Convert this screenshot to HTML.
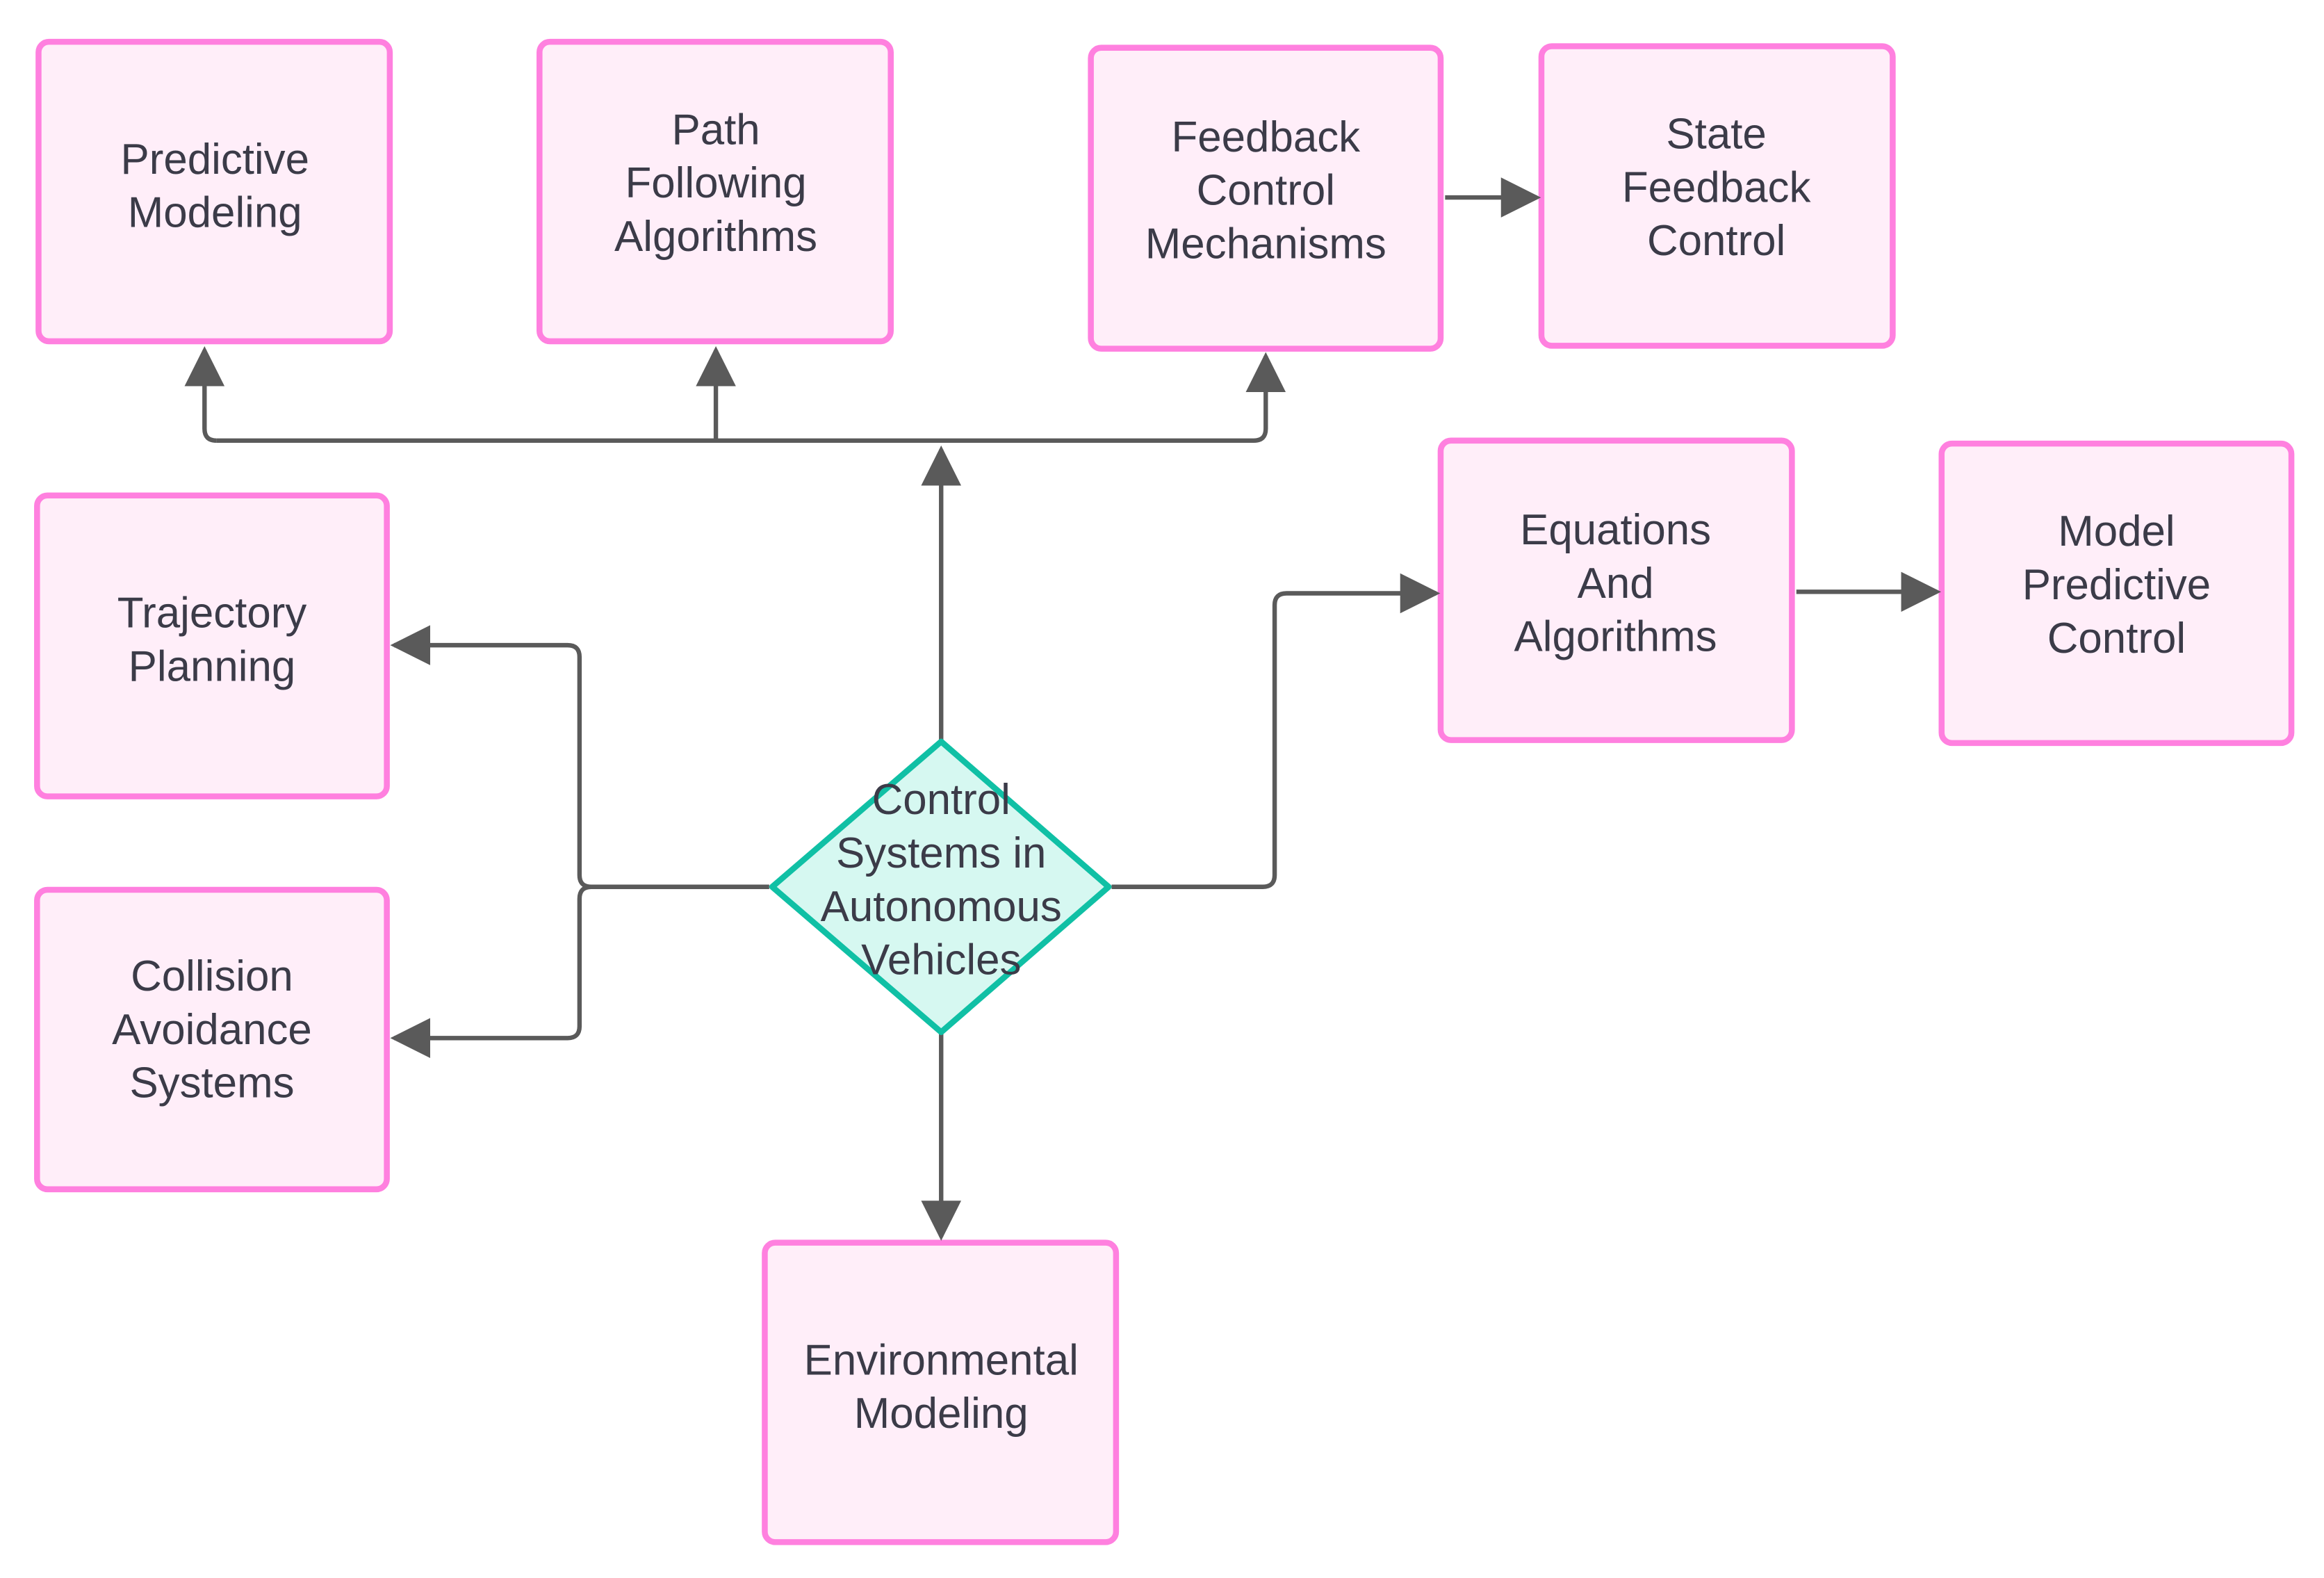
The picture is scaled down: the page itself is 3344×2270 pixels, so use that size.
<!DOCTYPE html>
<html><head><meta charset="utf-8"><style>
html,body{margin:0;padding:0;background:#fff;}
svg{display:block;}
text{font-family:"Liberation Sans",sans-serif;font-size:29px;fill:#3b3b48;text-anchor:middle;}
</style></head><body>
<svg width="3344" height="2270" viewBox="0 0 1568 1064" xmlns="http://www.w3.org/2000/svg">
<defs>
<marker id="a" viewBox="0 0 10 10" refX="9" refY="5" markerWidth="9" markerHeight="10" orient="auto" markerUnits="strokeWidth">
<path d="M0,0 L10,5 L0,10 z" fill="#5a5a5a"/></marker>
</defs>
<g fill="#ffeef9" stroke="#ff80df" stroke-width="4">
<rect x="26" y="28" width="237" height="202" rx="7"/>
<rect x="364" y="28" width="237" height="202" rx="7"/>
<rect x="736" y="32" width="236" height="203" rx="7"/>
<rect x="1040" y="31" width="237" height="202" rx="7"/>
<rect x="25" y="334" width="236" height="203" rx="7"/>
<rect x="25" y="600" width="236" height="202" rx="7"/>
<rect x="972" y="297" width="237" height="202" rx="7"/>
<rect x="1310" y="299" width="236" height="202" rx="7"/>
<rect x="516" y="838" width="237" height="202" rx="7"/>
</g>
<g fill="none" stroke="#5a5a5a" stroke-width="3">
<path d="M635,500 V303" marker-end="url(#a)"/>
<path d="M146,297 H846 Q854,297 854,289 V240" marker-end="url(#a)"/>
<path d="M146,297 Q138,297 138,289 V236" marker-end="url(#a)"/>
<path d="M483,297 V236" marker-end="url(#a)"/>
<path d="M519,598 H399 Q391,598 391,590 V443 Q391,435 383,435 H266" marker-end="url(#a)"/>
<path d="M399,598 Q391,598 391,606 V692 Q391,700 383,700 H266" marker-end="url(#a)"/>
<path d="M750,598 H852 Q860,598 860,590 V408 Q860,400 868,400 H969" marker-end="url(#a)"/>
<path d="M1212,399 H1307" marker-end="url(#a)"/>
<path d="M975,133 H1037" marker-end="url(#a)"/>
<path d="M635,696 V834" marker-end="url(#a)"/>
</g>
<path d="M635,500 L748,598 L635,696 L521,598 Z" fill="#d6f8f1" stroke="#10c0a5" stroke-width="4" stroke-linejoin="round"/>
<text x="145" y="117">Predictive</text><text x="145" y="153">Modeling</text>
<text x="483" y="97">Path</text><text x="483" y="133">Following</text><text x="483" y="169">Algorithms</text>
<text x="854" y="102">Feedback</text><text x="854" y="138">Control</text><text x="854" y="174">Mechanisms</text>
<text x="1158" y="100">State</text><text x="1158" y="136">Feedback</text><text x="1158" y="172">Control</text>
<text x="143" y="423">Trajectory</text><text x="143" y="459">Planning</text>
<text x="143" y="668">Collision</text><text x="143" y="704">Avoidance</text><text x="143" y="740">Systems</text>
<text x="1090" y="367">Equations</text><text x="1090" y="403">And</text><text x="1090" y="439">Algorithms</text>
<text x="1428" y="368">Model</text><text x="1428" y="404">Predictive</text><text x="1428" y="440">Control</text>
<text x="635" y="927">Environmental</text><text x="635" y="963">Modeling</text>
<text x="635" y="549">Control</text><text x="635" y="585">Systems in</text><text x="635" y="621">Autonomous</text><text x="635" y="657">Vehicles</text>
</svg>
</body></html>
